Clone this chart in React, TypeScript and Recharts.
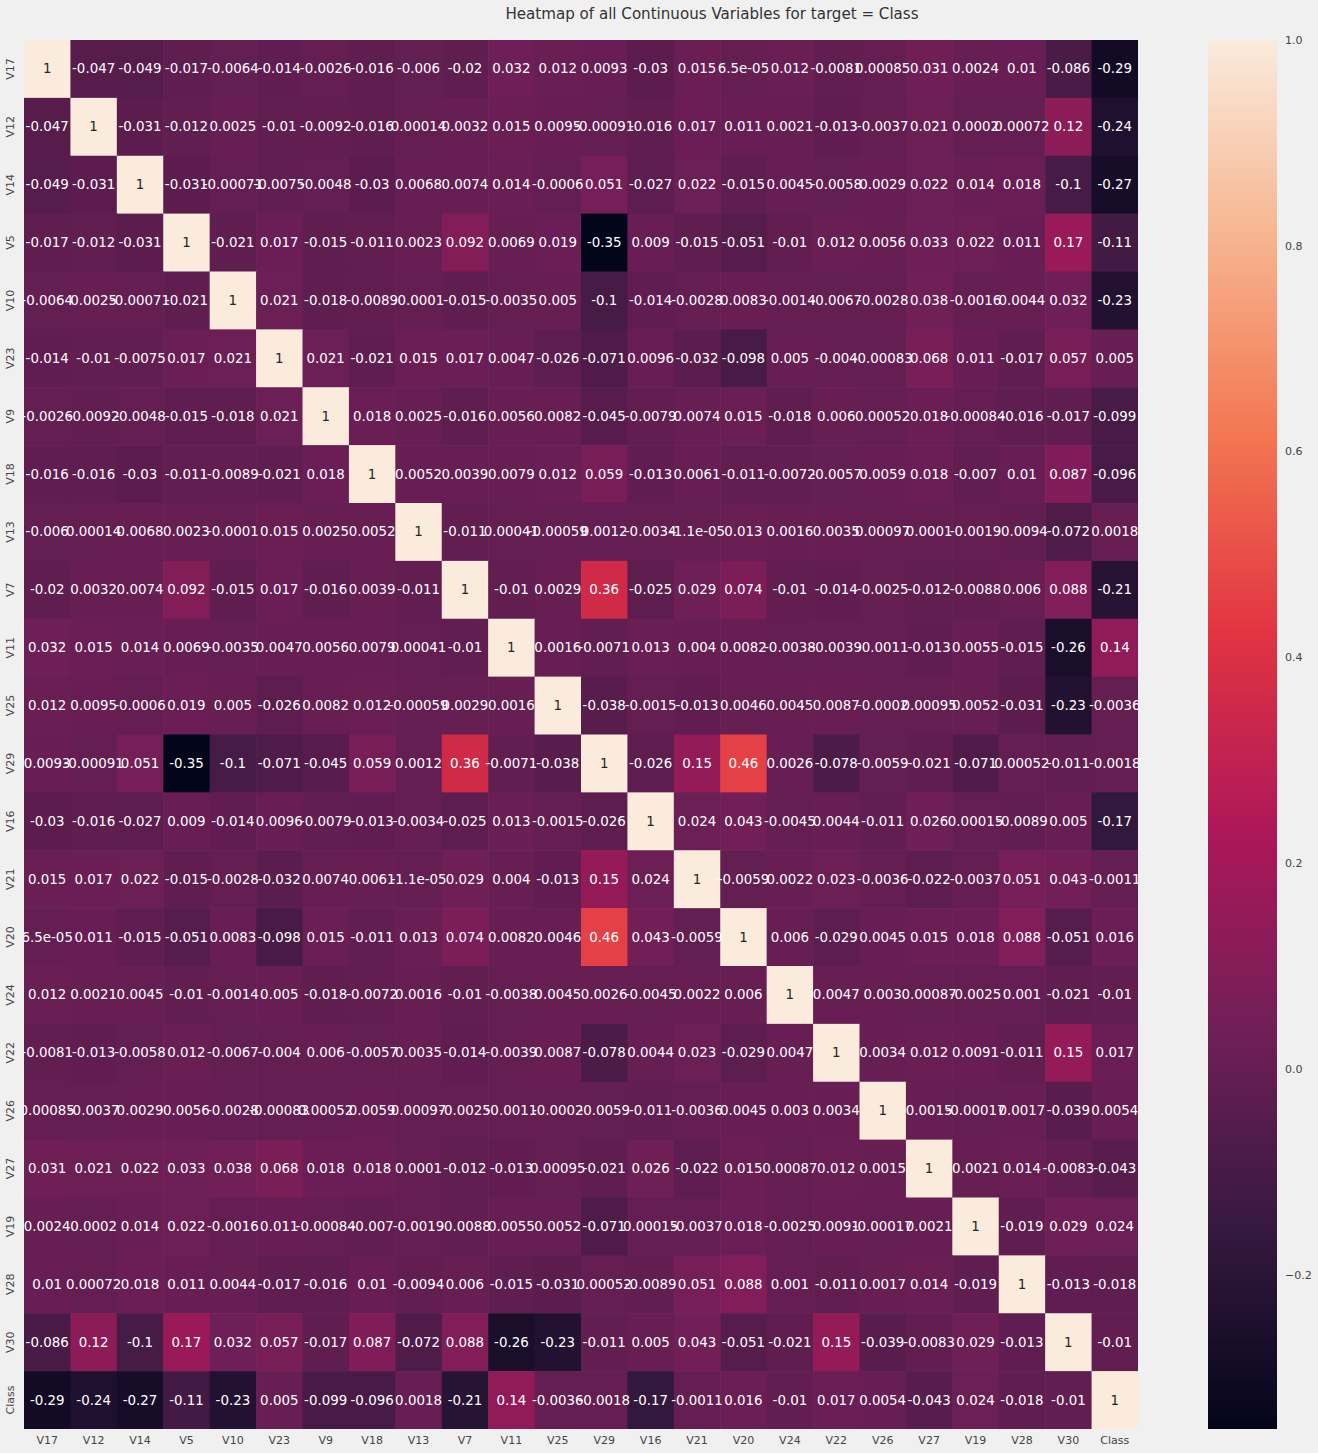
import React from 'react';
import { ScatterChart, Scatter, XAxis, YAxis, BarChart, Bar } from 'recharts';

// ---------------- data ----------------
const variables = ['V17', 'V12', 'V14', 'V5', 'V10', 'V23', 'V9', 'V18', 'V13', 'V7', 'V11', 'V25', 'V29', 'V16', 'V21', 'V20', 'V24', 'V22', 'V26', 'V27', 'V19', 'V28', 'V30', 'Class'];

// lower triangle of the correlation matrix (row i, columns 0..i)
const rowV17 = [1];
const rowV12 = [-0.047, 1];
const rowV14 = [-0.049, -0.031, 1];
const rowV5 = [-0.017, -0.012, -0.031, 1];
const rowV10 = [-0.0064, 0.0025, -0.00071, -0.021, 1];
const rowV23 = [-0.014, -0.01, -0.0075, 0.017, 0.021, 1];
const rowV9 = [-0.0026, -0.0092, -0.0048, -0.015, -0.018, 0.021, 1];
const rowV18 = [-0.016, -0.016, -0.03, -0.011, -0.0089, -0.021, 0.018, 1];
const rowV13 = [-0.006, 0.00014, 0.0068, 0.0023, -0.0001, 0.015, 0.0025, 0.0052, 1];
const rowV7 = [-0.02, 0.0032, 0.0074, 0.092, -0.015, 0.017, -0.016, 0.0039, -0.011, 1];
const rowV11 = [0.032, 0.015, 0.014, 0.0069, -0.0035, 0.0047, 0.0056, 0.0079, 0.00041, -0.01, 1];
const rowV25 = [0.012, 0.0095, -0.0006, 0.019, 0.005, -0.026, 0.0082, 0.012, -0.00059, 0.0029, 0.0016, 1];
const rowV29 = [0.0093, -0.00091, 0.051, -0.35, -0.1, -0.071, -0.045, 0.059, 0.0012, 0.36, -0.0071, -0.038, 1];
const rowV16 = [-0.03, -0.016, -0.027, 0.009, -0.014, 0.0096, -0.0079, -0.013, -0.0034, -0.025, 0.013, -0.0015, -0.026, 1];
const rowV21 = [0.015, 0.017, 0.022, -0.015, -0.0028, -0.032, 0.0074, 0.0061, -1.1e-05, 0.029, 0.004, -0.013, 0.15, 0.024, 1];
const rowV20 = [6.5e-05, 0.011, -0.015, -0.051, 0.0083, -0.098, 0.015, -0.011, 0.013, 0.074, 0.0082, 0.0046, 0.46, 0.043, -0.0059, 1];
const rowV24 = [0.012, 0.0021, 0.0045, -0.01, -0.0014, 0.005, -0.018, -0.0072, 0.0016, -0.01, -0.0038, 0.0045, 0.0026, -0.0045, 0.0022, 0.006, 1];
const rowV22 = [-0.0081, -0.013, -0.0058, 0.012, -0.0067, -0.004, 0.006, -0.0057, 0.0035, -0.014, -0.0039, 0.0087, -0.078, 0.0044, 0.023, -0.029, 0.0047, 1];
const rowV26 = [0.00085, -0.0037, 0.0029, 0.0056, -0.0028, -0.00083, 0.00052, 0.0059, 0.00097, -0.0025, -0.0011, -0.0002, -0.0059, -0.011, -0.0036, 0.0045, 0.003, 0.0034, 1];
const rowV27 = [0.031, 0.021, 0.022, 0.033, 0.038, 0.068, 0.018, 0.018, 0.0001, -0.012, -0.013, 0.00095, -0.021, 0.026, -0.022, 0.015, 0.00087, 0.012, 0.0015, 1];
const rowV19 = [0.0024, 0.0002, 0.014, 0.022, -0.0016, 0.011, -0.00084, -0.007, -0.0019, -0.0088, 0.0055, 0.0052, -0.071, 0.00015, -0.0037, 0.018, -0.0025, 0.0091, -0.00017, 0.0021, 1];
const rowV28 = [0.01, 0.00072, 0.018, 0.011, 0.0044, -0.017, -0.016, 0.01, -0.0094, 0.006, -0.015, -0.031, 0.00052, -0.0089, 0.051, 0.088, 0.001, -0.011, 0.0017, 0.014, -0.019, 1];
const rowV30 = [-0.086, 0.12, -0.1, 0.17, 0.032, 0.057, -0.017, 0.087, -0.072, 0.088, -0.26, -0.23, -0.011, 0.005, 0.043, -0.051, -0.021, 0.15, -0.039, -0.0083, 0.029, -0.013, 1];
const rowClass = [-0.29, -0.24, -0.27, -0.11, -0.23, 0.005, -0.099, -0.096, 0.0018, -0.21, 0.14, -0.0036, -0.0018, -0.17, -0.0011, 0.016, -0.01, 0.017, 0.0054, -0.043, 0.024, -0.018, -0.01, 1];

const lowerRows = [rowV17, rowV12, rowV14, rowV5, rowV10, rowV23, rowV9, rowV18, rowV13, rowV7, rowV11, rowV25, rowV29, rowV16, rowV21, rowV20, rowV24, rowV22, rowV26, rowV27, rowV19, rowV28, rowV30, rowClass];

const colorbarTicks = [-0.2, 0, 0.2, 0.4, 0.6, 0.8, 1.0];
const V_MIN = -0.35;
const V_MAX = 1;

const TITLE = 'Heatmap of all Continuous Variables for target = Class';

// ---------------- layout / style ----------------
const FONT = '"DejaVu Sans", sans-serif';
const BG = '#f0f0f0';
const CHART_W = 1318;
const CHART_H = 1453;
const MARGIN = { top: 40, right: 180, bottom: 0, left: 0 };
const Y_AXIS_W = 24;
const X_AXIS_H = 24;
const N = variables.length;
const PLOT_W = CHART_W - MARGIN.left - MARGIN.right - Y_AXIS_W;
const PLOT_H = CHART_H - MARGIN.top - MARGIN.bottom - X_AXIS_H;
const CELL_W = PLOT_W / N;
const CELL_H = PLOT_H / N;

// seaborn "rocket" colormap stops
const rocketStops: [number, string][] = [
  [0, '#03051a'],
  [1 / 7, '#35193e'],
  [2 / 7, '#701f57'],
  [3 / 7, '#ad1759'],
  [4 / 7, '#e13342'],
  [5 / 7, '#f37651'],
  [6 / 7, '#f6b48f'],
  [1, '#faebdd'],
];

function hexToRgb(h: string) {
  const n = parseInt(h.slice(1), 16);
  return [(n >> 16) & 255, (n >> 8) & 255, n & 255];
}

function rocket(v: number) {
  let t = (v - V_MIN) / (V_MAX - V_MIN);
  t = Math.max(0, Math.min(1, t));
  for (let i = 0; i < rocketStops.length - 1; i++) {
    const [t0, c0] = rocketStops[i];
    const [t1, c1] = rocketStops[i + 1];
    if (t <= t1) {
      const f = (t - t0) / (t1 - t0);
      const a = hexToRgb(c0);
      const b = hexToRgb(c1);
      const c = a.map((x, k) => Math.round(x + (b[k] - x) * f));
      return `rgb(${c[0]},${c[1]},${c[2]})`;
    }
  }
  return rocketStops[rocketStops.length - 1][1];
}

function fmt2g(v: number) {
  if (v === 0) return '0';
  const exp = Math.floor(Math.log10(Math.abs(Number(v.toPrecision(2)))));
  if (exp < -4 || exp >= 2) {
    let s = v.toExponential(1);
    let [m, e] = s.split('e');
    if (m.includes('.')) m = m.replace(/0+$/, '').replace(/\.$/, '');
    const sign = e[0] === '-' ? '-' : '+';
    let digits = e.replace(/^[+-]/, '');
    if (digits.length < 2) digits = '0' + digits;
    return `${m}e${sign}${digits}`;
  }
  let s = v.toPrecision(2);
  if (s.includes('.')) s = s.replace(/0+$/, '').replace(/\.$/, '');
  return s;
}

const matrix = variables.map((_, i) =>
  variables.map((__, j) => (i >= j ? lowerRows[i][j] : lowerRows[j][i]))
);

const cells = matrix.flatMap((row, i) =>
  row.map((v, j) => ({ x: j + 0.5, y: i + 0.5, v, row: variables[i], col: variables[j] }))
);

const axisTicks = variables.map((_, i) => i + 0.5);

const CellShape = (props: any) => {
  const { cx, cy, payload } = props;
  if (cx == null || cy == null) return null;
  return (
    <rect
      x={cx - CELL_W / 2}
      y={cy - CELL_H / 2}
      width={CELL_W + 0.6}
      height={CELL_H + 0.6}
      fill={rocket(payload.v)}
      stroke="none"
    />
  );
};

const LabelShape = (props: any) => {
  const { cx, cy, payload } = props;
  if (cx == null || cy == null) return null;
  const light = payload.v > 0.7;
  return (
    <text
      x={cx}
      y={cy}
      textAnchor="middle"
      dominantBaseline="central"
      fontFamily={FONT}
      fontSize={13.4}
      fill={light ? '#262626' : '#ffffff'}
    >
      {fmt2g(payload.v)}
    </text>
  );
};

const XTick = (props: any) => {
  const { x, payload } = props;
  const label = variables[Math.floor(payload.value)];
  return (
    <text x={x} y={1444} textAnchor="middle" fontFamily={FONT} fontSize={11} fill="#444444">
      {label}
    </text>
  );
};

const YTick = (props: any) => {
  const { y, payload } = props;
  const label = variables[Math.floor(payload.value)];
  const x = 14;
  return (
    <text
      x={x}
      y={y}
      transform={`rotate(-90, ${x}, ${y})`}
      textAnchor="middle"
      fontFamily={FONT}
      fontSize={11}
      fill="#444444"
    >
      {label}
    </text>
  );
};

const colorbarData = [{ name: 'cb', range: [V_MIN, V_MAX] }];

const CB_X = 1208;
const CB_W = 69;
const CB_AXIS_W = 50;

const CbTick = (props: any) => {
  const { x, y, payload } = props;
  const v = payload.value as number;
  const s = v < 0 ? '\u2212' + Math.abs(v).toFixed(1) : v.toFixed(1);
  return (
    <text x={x} y={y} dy="0.35em" textAnchor="start" fontFamily={FONT} fontSize={11} fill="#444444">
      {s}
    </text>
  );
};

export default function App() {
  return (
    <div
      style={{
        position: 'absolute',
        left: 0,
        top: 0,
        width: CHART_W,
        height: CHART_H,
        background: BG,
        overflow: 'hidden',
      }}
    >
      <div
        style={{
          position: 'absolute',
          left: 0,
          top: 5,
          width: 1424,
          textAlign: 'center',
          fontFamily: FONT,
          fontSize: 15.1,
          color: '#333333',
          whiteSpace: 'nowrap',
        }}
      >
        {TITLE}
      </div>
      <div style={{ position: 'absolute', left: 0, top: 0 }}>
        <ScatterChart width={CHART_W} height={CHART_H} margin={MARGIN}>
          <XAxis
            type="number"
            dataKey="x"
            domain={[0, N]}
            ticks={axisTicks}
            interval={0}
            height={X_AXIS_H}
            tickLine={false}
            axisLine={false}
            tick={<XTick />}
            allowDataOverflow
          />
          <YAxis
            type="number"
            dataKey="y"
            domain={[0, N]}
            ticks={axisTicks}
            interval={0}
            reversed
            width={Y_AXIS_W}
            tickLine={false}
            axisLine={false}
            tick={<YTick />}
            allowDataOverflow
          />
          <Scatter data={cells} shape={<CellShape />} isAnimationActive={false} />
          <Scatter data={cells} shape={<LabelShape />} isAnimationActive={false} />
        </ScatterChart>
      </div>
      <div style={{ position: 'absolute', left: CB_X, top: 0 }}>
        <BarChart
          width={CB_W + CB_AXIS_W}
          height={CHART_H}
          data={colorbarData}
          margin={{ top: 40, right: 0, bottom: 24, left: 0 }}
          barCategoryGap={0}
        >
          <defs>
            <linearGradient id="rocketGrad" x1="0" y1="0" x2="0" y2="1">
              {rocketStops
                .slice()
                .reverse()
                .map(([t, c], k) => (
                  <stop key={k} offset={`${(1 - t) * 100}%`} stopColor={c} />
                ))}
            </linearGradient>
          </defs>
          <XAxis dataKey="name" hide />
          <YAxis
            orientation="right"
            type="number"
            domain={[V_MIN, V_MAX]}
            ticks={colorbarTicks}
            interval={0}
            width={CB_AXIS_W}
            tickLine={false}
            axisLine={false}
            tickSize={6}
            tickMargin={2}
            tick={<CbTick />}
            allowDataOverflow
          />
          <Bar dataKey="range" fill="url(#rocketGrad)" isAnimationActive={false} />
        </BarChart>
      </div>
    </div>
  );
}
